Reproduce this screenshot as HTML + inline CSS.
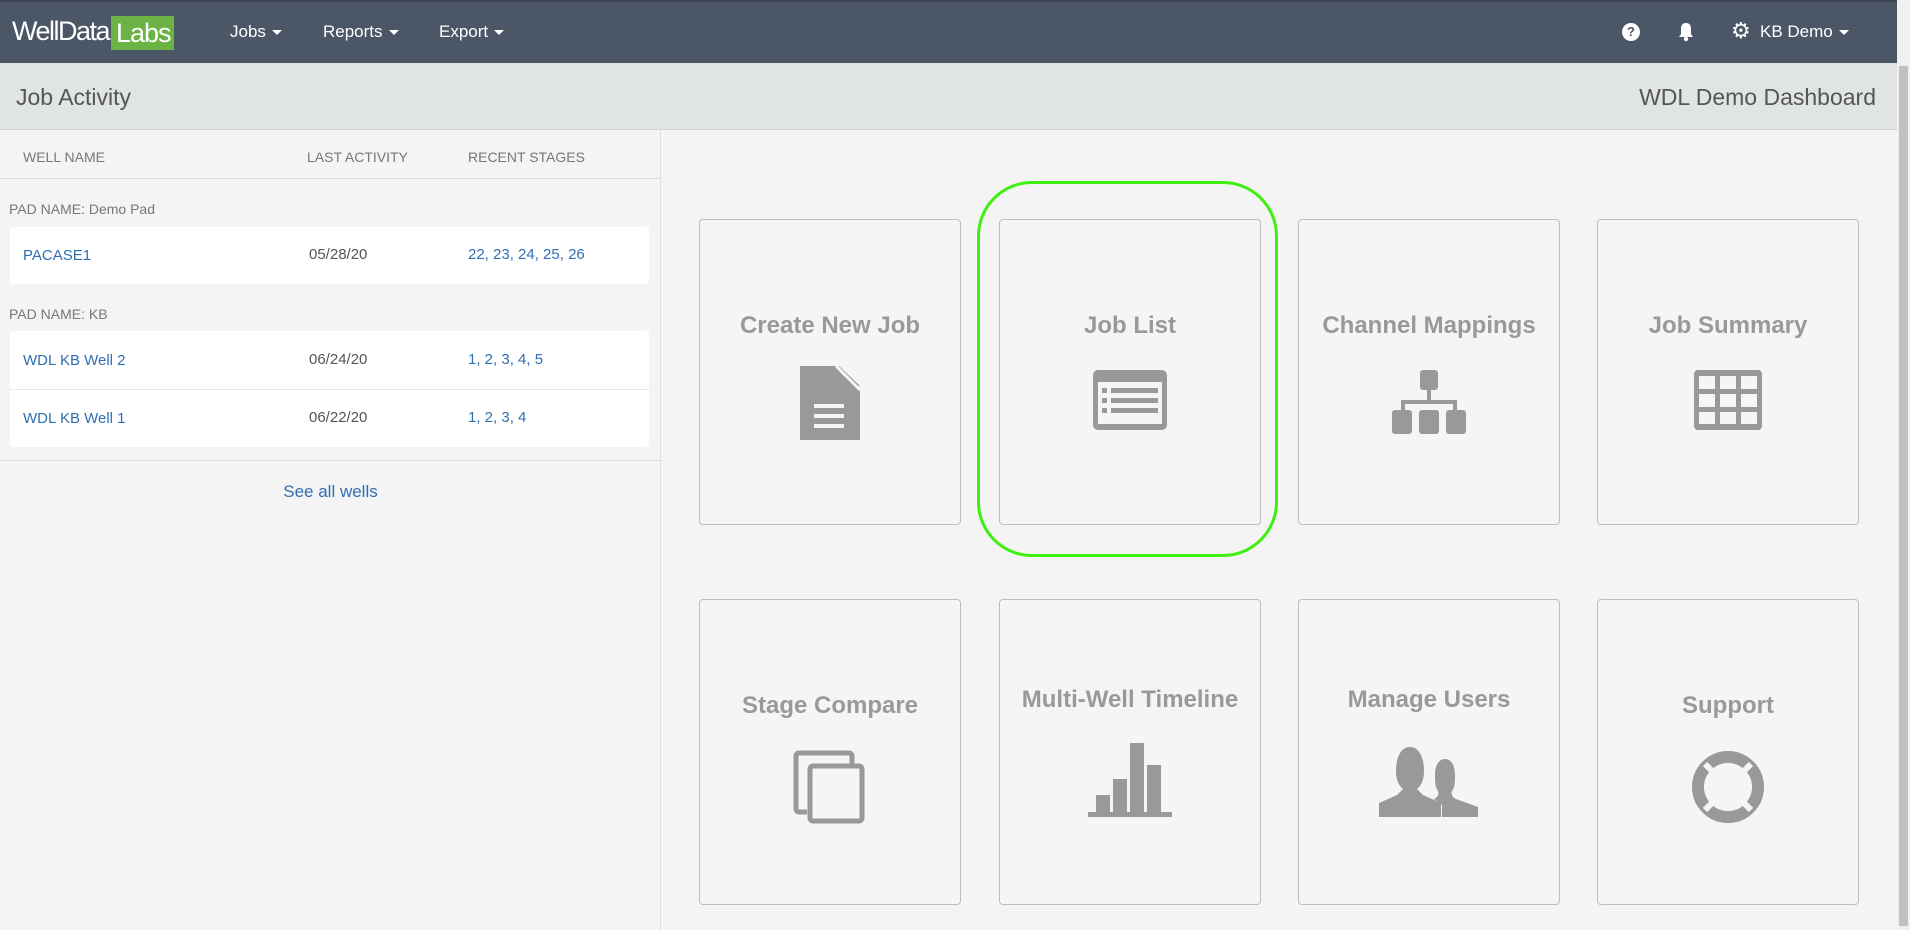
<!DOCTYPE html>
<html><head><meta charset="utf-8"><style>
*{box-sizing:border-box;margin:0;padding:0}
body{width:1910px;height:930px;overflow:hidden;background:#f4f4f4;font-family:"Liberation Sans",Arial,sans-serif;position:relative}
.abs{position:absolute}
.nav{left:0;top:0;width:1897px;height:63px;background:#4b5667;border-top:2px solid #3a4250}
.nav .m{color:#fff;font-size:17px;top:20px}
.caret{display:inline-block;width:0;height:0;border-left:5px solid transparent;border-right:5px solid transparent;border-top:5px solid #fff;vertical-align:middle;margin-left:6px}
.hdr{left:0;top:63px;width:1897px;height:67px;background:#e1e4e5;border-bottom:1px solid #d3d6d8}
.left{left:0;top:130px;width:661px;height:800px;background:#f4f4f4;border-right:1px solid #dcdfe2}
.ch{font-size:14px;color:#777;top:149px}
.pad{font-size:14px;color:#777}
.box{background:#fff;left:10px;width:639px;border-radius:3px}
.t{font-size:15px}
.blue{color:#2f6fb0}
.gray{color:#555}
.card{width:262px;height:306px;border:1px solid #bdbdbd;border-radius:4px;background:#f5f5f5;text-align:center}
.card .tt{position:absolute;left:0;right:0;font-size:24px;font-weight:bold;color:#999}
.card svg{position:absolute;left:50%;transform:translateX(-50%)}
</style></head><body>
<div class="abs nav">
 <div class="abs" style="left:12px;top:14px;color:#fff;font-size:27px;letter-spacing:-1.5px">WellData</div>
 <div class="abs" style="left:111px;top:14px;width:63px;height:34px;background:#6bb344;color:#fff;font-size:27px;letter-spacing:-1px;padding-left:5px;line-height:34px">Labs</div>
 <div class="abs m" style="left:230px">Jobs<span class="caret"></span></div>
 <div class="abs m" style="left:323px">Reports<span class="caret"></span></div>
 <div class="abs m" style="left:439px">Export<span class="caret"></span></div>
 <div class="abs" style="left:1622px;top:21px;width:18px;height:18px;border-radius:50%;background:#fff;color:#4b5667;font-size:13px;font-weight:bold;text-align:center;line-height:18px">?</div>
 <svg class="abs" style="left:1677px;top:20px" width="18" height="20" viewBox="0 0 18 20"><path d="M9 1c-4 0-5 3-5 6v5l-2 3h14l-2-3V7c0-3-1-6-5-6z" fill="#fff"/><circle cx="9" cy="17" r="2.2" fill="#fff"/></svg>
 <div class="abs" style="left:1731px;top:16px;color:#fff;font-size:22px">⚙</div>
 <div class="abs m" style="left:1760px">KB Demo<span class="caret"></span></div>
</div>
<div class="abs hdr">
 <div class="abs" style="left:16px;top:21px;font-size:23px;color:#555">Job Activity</div>
 <div class="abs" style="right:21px;top:21px;font-size:23px;color:#555">WDL Demo Dashboard</div>
</div>
<div class="abs" style="left:1897px;top:0;width:13px;height:930px;background:#f0f0f0"><div class="abs" style="left:2px;top:66px;width:9px;height:860px;background:#c1c1c1"></div></div>
<div class="abs left"></div>
<div class="abs ch" style="left:23px">WELL NAME</div>
<div class="abs ch" style="left:307px">LAST ACTIVITY</div>
<div class="abs ch" style="left:468px">RECENT STAGES</div>
<div class="abs" style="left:0;top:178px;width:661px;height:1px;background:#d8dbe3"></div>
<div class="abs pad" style="left:9px;top:201px">PAD NAME: Demo Pad</div>
<div class="abs box" style="top:227px;height:57px"></div>
<div class="abs t blue" style="left:23px;top:247px">PACASE1</div>
<div class="abs t gray" style="left:309px;top:246px">05/28/20</div>
<div class="abs t blue" style="left:468px;top:246px">22, 23, 24, 25, 26</div>
<div class="abs pad" style="left:9px;top:306px">PAD NAME: KB</div>
<div class="abs box" style="top:331px;height:116px"></div>
<div class="abs" style="left:10px;top:389px;width:639px;height:1px;background:#e8e8e8"></div>
<div class="abs t blue" style="left:23px;top:352px">WDL KB Well 2</div>
<div class="abs t gray" style="left:309px;top:351px">06/24/20</div>
<div class="abs t blue" style="left:468px;top:351px">1, 2, 3, 4, 5</div>
<div class="abs t blue" style="left:23px;top:410px">WDL KB Well 1</div>
<div class="abs t gray" style="left:309px;top:409px">06/22/20</div>
<div class="abs t blue" style="left:468px;top:409px">1, 2, 3, 4</div>
<div class="abs" style="left:0;top:460px;width:661px;height:1px;background:#d8dbe3"></div>
<div class="abs" style="left:0;width:661px;top:482px;text-align:center;font-size:17px;color:#2f6fb0">See all wells</div>

<div class="abs card" style="left:699px;top:219px"><div class="tt" style="top:92px">Create New Job</div>
<svg style="top:146px" width="64" height="76" viewBox="0 0 64 76"><path d="M2 0h36l24 24v50H2z" fill="#999"/><path d="M41 0l21 20h-21z" fill="#999"/><path d="M38 0l24 24" stroke="#f5f5f5" stroke-width="3"/><rect x="16" y="38" width="30" height="4" fill="#f5f5f5"/><rect x="16" y="48" width="30" height="4" fill="#f5f5f5"/><rect x="16" y="58" width="30" height="4" fill="#f5f5f5"/></svg></div>
<div class="abs card" style="left:999px;top:219px"><div class="tt" style="top:92px">Job List</div>
<svg style="top:150px" width="74" height="60" viewBox="0 0 74 60"><rect x="0" y="0" width="74" height="60" rx="5" fill="#999"/><rect x="5" y="12" width="64" height="42" fill="#f5f5f5"/><g fill="#999"><rect x="9" y="18" width="5" height="5"/><rect x="18" y="18" width="47" height="5"/><rect x="9" y="28" width="5" height="5"/><rect x="18" y="28" width="47" height="5"/><rect x="9" y="38" width="5" height="5"/><rect x="18" y="38" width="47" height="5"/></g></svg></div>
<div class="abs card" style="left:1298px;top:219px"><div class="tt" style="top:92px">Channel Mappings</div>
<svg style="top:150px" width="74" height="66" viewBox="0 0 74 66"><g fill="#999"><rect x="28" y="0" width="18" height="20" rx="3"/><rect x="35" y="20" width="4" height="14"/><rect x="9" y="30" width="56" height="4"/><rect x="9" y="30" width="4" height="12"/><rect x="61" y="30" width="4" height="12"/><rect x="0" y="40" width="20" height="24" rx="3"/><rect x="27" y="40" width="20" height="24" rx="3"/><rect x="54" y="40" width="20" height="24" rx="3"/></g></svg></div>
<div class="abs card" style="left:1597px;top:219px"><div class="tt" style="top:92px">Job Summary</div>
<svg style="top:150px" width="68" height="60" viewBox="0 0 68 60"><rect width="68" height="60" rx="4" fill="#999"/><g fill="#f5f5f5"><rect x="5" y="6" width="16" height="13"/><rect x="26" y="6" width="16" height="13"/><rect x="47" y="6" width="16" height="13"/><rect x="5" y="24" width="16" height="13"/><rect x="26" y="24" width="16" height="13"/><rect x="47" y="24" width="16" height="13"/><rect x="5" y="42" width="16" height="12"/><rect x="26" y="42" width="16" height="12"/><rect x="47" y="42" width="16" height="12"/></g></svg></div>

<div class="abs card" style="left:699px;top:599px"><div class="tt" style="top:92px">Stage Compare</div>
<svg style="top:150px" width="74" height="74" viewBox="0 0 74 74"><path d="M14 62H6a3 3 0 0 1-3-3V6a3 3 0 0 1 3-3h50a3 3 0 0 1 3 3v8" fill="none" stroke="#999" stroke-width="5"/><rect x="17" y="16" width="52" height="55" rx="3" fill="none" stroke="#999" stroke-width="5"/></svg></div>
<div class="abs card" style="left:999px;top:599px"><div class="tt" style="top:86px">Multi-Well Timeline</div>
<svg style="top:143px" width="84" height="74" viewBox="0 0 84 74"><g fill="#999"><rect x="8" y="52" width="14" height="18"/><rect x="25" y="36" width="14" height="34"/><rect x="42" y="0" width="14" height="70"/><rect x="59" y="22" width="14" height="48"/><rect x="0" y="69" width="84" height="5"/></g></svg></div>
<div class="abs card" style="left:1298px;top:599px"><div class="tt" style="top:86px">Manage Users</div>
<svg style="top:145px" width="100" height="74" viewBox="0 0 100 74"><g fill="#999"><path d="M0 72V58l18-8 6-6c-5-4-7-10-7-18 0-14 5-24 14-24s14 10 14 24c0 8-2 14-7 18l6 6 18 8v14z"/><path d="M63 72V60l-8-6c4-2 5-5 4-8-3-4-3-9-3-16 0-10 4-16 10-16s10 6 10 16c0 7 0 12-3 16-1 3 0 6 4 8l22 8v10z"/></g></svg></div>
<div class="abs card" style="left:1597px;top:599px"><div class="tt" style="top:92px">Support</div>
<svg style="top:150px" width="74" height="74" viewBox="0 0 74 74"><circle cx="37" cy="37" r="30" fill="none" stroke="#999" stroke-width="12"/><g stroke="#f5f5f5" stroke-width="6"><line x1="14" y1="14" x2="24" y2="24"/><line x1="60" y1="14" x2="50" y2="24"/><line x1="14" y1="60" x2="24" y2="50"/><line x1="60" y1="60" x2="50" y2="50"/></g></svg></div>

<div class="abs" style="left:977px;top:181px;width:301px;height:376px;border:3px solid #3ef00f;border-radius:55px"></div>
</body></html>
